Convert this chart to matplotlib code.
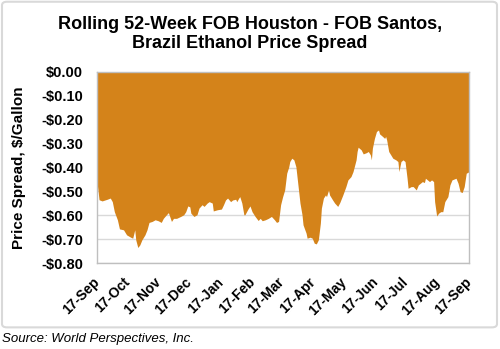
import numpy as np
import matplotlib
matplotlib.use("Agg")
import matplotlib.pyplot as plt
import matplotlib.dates as mdates
from matplotlib.patches import FancyBboxPatch
from matplotlib.ticker import FuncFormatter, MultipleLocator

plt.rcParams["font.family"] = ["Liberation Sans", "DejaVu Sans"]

start_date = np.datetime64("2017-09-17")
day_offsets = [
    0, 2, 5, 10, 13, 15, 17, 20, 22, 26, 29, 33, 35, 37, 38, 40, 42, 44, 47, 49,
    51, 54, 57, 60, 63, 65, 68, 70, 73, 75, 78, 82, 85, 87, 89, 91, 92, 95, 98, 100,
    103, 105, 108, 110, 113, 114, 118, 122, 124, 126, 128, 131, 133, 136, 137, 139, 140, 142, 144, 145,
    148, 150, 152, 155, 158, 160, 162, 165, 168, 171, 174, 176, 178, 180, 182, 184, 186, 188, 189, 191,
    193, 195, 197, 199, 201, 202, 205, 206, 209, 211, 213, 215, 217, 219, 220, 222, 224, 225, 227, 228,
    231, 233, 236, 238, 241, 244, 246, 249, 251, 254, 255, 256, 259, 261, 264, 266, 268, 269, 270, 272,
    274, 276, 277, 280, 282, 283, 284, 286, 288, 290, 293, 295, 296, 298, 300, 302, 304, 305, 308, 310,
    313, 315, 317, 319, 321, 322, 324, 326, 328, 330, 331, 333, 335, 337, 339, 341, 344, 346, 348, 352,
    354, 356, 358, 360, 362, 365,
]
spread = [
    -0.460, -0.535, -0.540, -0.533, -0.528, -0.543, -0.585, -0.619, -0.657, -0.661,
    -0.682, -0.692, -0.696, -0.661, -0.703, -0.735, -0.724, -0.703, -0.682, -0.661,
    -0.630, -0.626, -0.619, -0.623, -0.630, -0.613, -0.598, -0.589, -0.626, -0.613,
    -0.613, -0.605, -0.598, -0.585, -0.561, -0.565, -0.591, -0.605, -0.598, -0.570,
    -0.556, -0.563, -0.549, -0.543, -0.549, -0.582, -0.577, -0.574, -0.556, -0.536,
    -0.528, -0.543, -0.536, -0.533, -0.543, -0.528, -0.522, -0.549, -0.598, -0.598,
    -0.574, -0.561, -0.585, -0.605, -0.622, -0.613, -0.623, -0.619, -0.613, -0.605,
    -0.619, -0.630, -0.626, -0.556, -0.522, -0.494, -0.424, -0.397, -0.375, -0.361,
    -0.368, -0.397, -0.473, -0.549, -0.598, -0.640, -0.675, -0.696, -0.692, -0.696,
    -0.717, -0.720, -0.703, -0.633, -0.570, -0.528, -0.515, -0.522, -0.494, -0.515,
    -0.536, -0.549, -0.563, -0.547, -0.515, -0.480, -0.452, -0.438, -0.417, -0.368,
    -0.333, -0.315, -0.326, -0.343, -0.338, -0.333, -0.347, -0.368, -0.319, -0.278,
    -0.249, -0.243, -0.259, -0.270, -0.278, -0.270, -0.285, -0.333, -0.347, -0.361,
    -0.368, -0.375, -0.417, -0.375, -0.368, -0.375, -0.445, -0.487, -0.480, -0.480,
    -0.494, -0.473, -0.466, -0.459, -0.463, -0.445, -0.452, -0.459, -0.452, -0.459,
    -0.543, -0.603, -0.591, -0.585, -0.585, -0.543, -0.522, -0.473, -0.452, -0.445,
    -0.466, -0.501, -0.505, -0.480, -0.424, -0.417,
]

dates = (start_date + np.array(day_offsets).astype("timedelta64[D]")).astype("datetime64[D]")
dates = dates.astype(object)

fig = plt.figure(figsize=(5.0, 3.49), dpi=100)
ax = fig.add_axes([0.194, 0.2464, 0.7446, 0.5473])

ax.fill_between(dates, spread, 0, color="#D4831A", linewidth=0, zorder=2)

ax.set_ylim(-0.80, 0.0)
ax.set_xlim(dates[0], dates[-1])
ax.yaxis.set_major_locator(MultipleLocator(0.1))


def money(v, pos):
    v = round(v, 2)
    return f"-${abs(v):.2f}" if v < 0 else f"${v:.2f}"


ax.yaxis.set_major_formatter(FuncFormatter(money))
ax.xaxis.set_major_locator(mdates.MonthLocator(bymonthday=17))
ax.xaxis.set_major_formatter(mdates.DateFormatter("%d-%b"))

ax.grid(axis="y", color="#d9d9d9", linewidth=1.0)
ax.set_axisbelow(True)
for s in ax.spines.values():
    s.set_color("#bfbfbf")
    s.set_linewidth(1.0)

ax.tick_params(axis="x", top=True, bottom=False, direction="in", length=4,
               color="#d0d0d0", pad=12, labelsize=10)
ax.tick_params(axis="y", length=0, pad=10, labelsize=10.5)
for lbl in ax.get_xticklabels():
    lbl.set_rotation(45)
    lbl.set_ha("right")
    lbl.set_va("center")
    lbl.set_rotation_mode("anchor")
    lbl.set_fontweight("bold")
for lbl in ax.get_yticklabels():
    lbl.set_fontweight("bold")

ax.set_ylabel("Price Spread, $/Gallon", fontsize=11, fontweight="bold")
ax.yaxis.set_label_coords(-0.19, 0.5)

fig.text(0.5, 0.903, "Rolling 52-Week FOB Houston - FOB Santos,\nBrazil Ethanol Price Spread",
         ha="center", va="center", fontsize=13, fontweight="bold", linespacing=1.2)
fig.text(0.004, 0.03, "Source: World Perspectives, Inc.", ha="left", va="center",
         fontsize=9.5, style="italic")

# light rounded frame around the chart body
frame = FancyBboxPatch((0.004, 0.062), 0.99, 0.933, boxstyle="round,pad=0,rounding_size=0.01",
                       transform=fig.transFigure, facecolor="none", edgecolor="#d9d9d9",
                       linewidth=1.5)
fig.patches.append(frame)

fig.savefig("out.png", dpi=100)
